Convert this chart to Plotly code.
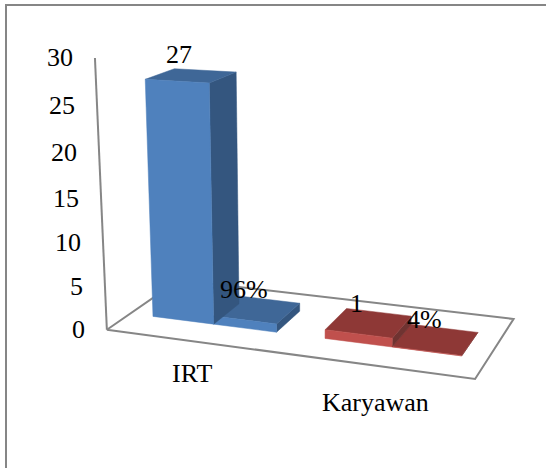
import numpy as np
import plotly.graph_objects as go

# Chart data
categories = ["IRT", "Karyawan"]
counts = [27, 1]
percent_values = [96, 4]
percent_labels = ["96%", "4%"]
z_ticks = [0, 5, 10, 15, 20, 25, 30]
z_max = 30

# Perspective camera: unit floor (x, y) and value height z/z_max to page pixels
CAMERA = np.array([
    [321.058, 91.5925, -17.7153, 106.871],
    [11.6257, -18.6068, -275.311, 329.697],
    [-0.0992369, 0.11078, -0.0610595, 1.0],
])
GAP, BAR_W, CAT_W = 0.0696718, 0.18204, 0.5
Y_FRONT, Y_BACK = 0.303831, 1 - 0.303831

palette = [
    {"front": "#4F81BD", "side": "#34567F", "top": "#3F6797"},
    {"front": "#C0504D", "side": "#6F3331", "top": "#8E3836"},
]
AXIS_GREY = "#868686"
FONT = dict(family="Liberation Serif, Times New Roman, serif", size=26, color="#000000")


def project(x, y, value):
    h = CAMERA @ np.array([x, y, value / z_max, 1.0])
    return h[0] / h[2], h[1] / h[2]


def add_poly(fig, corners, color):
    pairs = [project(*c) for c in corners + corners[:1]]
    fig.add_trace(go.Scatter(
        x=[p[0] for p in pairs], y=[p[1] for p in pairs], mode="lines", fill="toself",
        fillcolor=color, line=dict(color=color, width=0.5), hoverinfo="skip"))


def add_bar(fig, x0, x1, height, colors):
    y0, y1 = Y_FRONT, Y_BACK
    add_poly(fig, [(x1, y0, 0), (x1, y1, 0), (x1, y1, height), (x1, y0, height)], colors["side"])
    add_poly(fig, [(x0, y0, height), (x1, y0, height), (x1, y1, height), (x0, y1, height)], colors["top"])
    add_poly(fig, [(x0, y0, 0), (x1, y0, 0), (x1, y0, height), (x0, y0, height)], colors["front"])


def add_line(fig, corners):
    pairs = [project(*c) for c in corners]
    fig.add_trace(go.Scatter(
        x=[p[0] for p in pairs], y=[p[1] for p in pairs], mode="lines",
        line=dict(color=AXIS_GREY, width=2), hoverinfo="skip"))


fig = go.Figure()
annotations = []


def label(corner, text, xshift=0, yshift=0, xanchor="center"):
    px, py = project(*corner)
    annotations.append(dict(x=px, y=py, xref="x", yref="y", text=text, showarrow=False,
                            font=FONT, xanchor=xanchor, yanchor="middle",
                            xshift=xshift, yshift=yshift))


# Floor outline and vertical value axis go behind the bars
add_line(fig, [(0, 0, 0), (1, 0, 0), (1, 1, 0), (0, 1, 0), (0, 0, 0)])
add_line(fig, [(0, 0, 0), (0, 0, z_max)])

count_shift = [(-12, 21), (-12, 19)]
pct_shift = [(-13, 20), (-11, 20)]
cat_shift = [(0, -32), (-1, -37)]
y_mid = (Y_FRONT + Y_BACK) / 2
for idx, name in enumerate(categories):
    x0 = idx * CAT_W + GAP
    x1, x2 = x0 + BAR_W, x0 + 2 * BAR_W
    pct_height = percent_values[idx] / 100
    add_bar(fig, x1, x2, pct_height, palette[idx])
    add_bar(fig, x0, x1, counts[idx], palette[idx])
    label(((x0 + x1) / 2, y_mid, counts[idx]), str(counts[idx]), *count_shift[idx])
    label(((x1 + x2) / 2, y_mid, pct_height), percent_labels[idx], *pct_shift[idx])
    label((x1, 0, 0), name, *cat_shift[idx])

for t in z_ticks:
    label((0, 0, t), str(t), -20, 0, "right")

hidden = dict(visible=False, fixedrange=True)
fig.update_layout(
    width=546, height=468, margin=dict(l=0, r=0, t=0, b=0),
    paper_bgcolor="white", plot_bgcolor="white", showlegend=False,
    xaxis=dict(range=[0, 546], **hidden),
    yaxis=dict(range=[468, 0], **hidden),
    annotations=annotations,
    shapes=[dict(type="rect", x0=6, x1=560, y0=5, y1=480,
                 line=dict(color=AXIS_GREY, width=2), layer="below")],
)
fig.write_html("out.html")
